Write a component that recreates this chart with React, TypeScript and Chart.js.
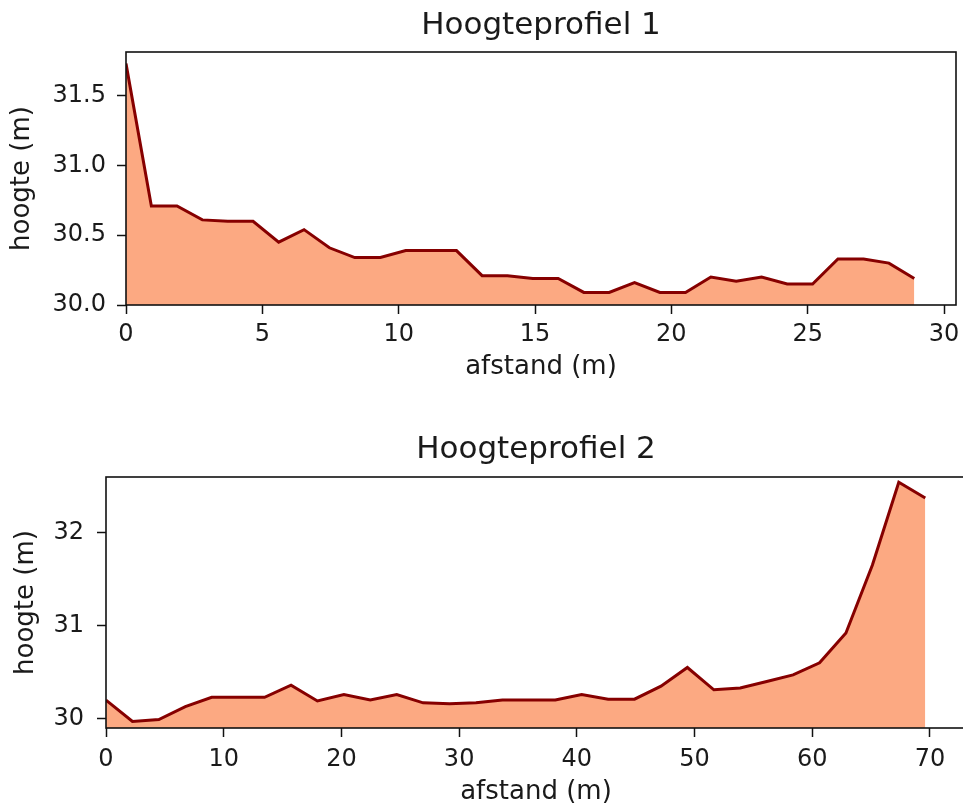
import React, { useEffect, useRef } from "react";
import { Chart, registerables } from "chart.js";

Chart.register(...registerables);

// ---- Data: Hoogteprofiel 1 ----
const profile1Distance = [0, 0.93, 1.87, 2.8, 3.73, 4.66, 5.6, 6.53, 7.46, 8.39, 9.33, 10.26, 11.19, 12.12, 13.06, 13.99, 14.92, 15.85, 16.79, 17.72, 18.65, 19.58, 20.52, 21.45, 22.38, 23.31, 24.25, 25.18, 26.11, 27.05, 27.98, 28.91];
const profile1Height = [31.73, 30.71, 30.71, 30.61, 30.6, 30.6, 30.45, 30.54, 30.41, 30.34, 30.34, 30.39, 30.39, 30.39, 30.21, 30.21, 30.19, 30.19, 30.09, 30.09, 30.16, 30.09, 30.09, 30.2, 30.17, 30.2, 30.15, 30.15, 30.33, 30.33, 30.3, 30.19];
const profile1XTicks = [0, 5, 10, 15, 20, 25, 30];
const profile1YTicks = [30.0, 30.5, 31.0, 31.5];

// ---- Data: Hoogteprofiel 2 ----
const profile2Distance = [0, 2.25, 4.49, 6.74, 8.98, 11.23, 13.47, 15.72, 17.96, 20.21, 22.45, 24.7, 26.94, 29.19, 31.43, 33.68, 35.92, 38.17, 40.41, 42.66, 44.9, 47.15, 49.39, 51.64, 53.88, 56.13, 58.37, 60.62, 62.86, 65.11, 67.35, 69.6];
const profile2Height = [30.2, 29.97, 29.99, 30.13, 30.23, 30.23, 30.23, 30.36, 30.19, 30.26, 30.2, 30.26, 30.17, 30.16, 30.17, 30.2, 30.2, 30.2, 30.26, 30.21, 30.21, 30.35, 30.55, 30.31, 30.33, 30.4, 30.47, 30.6, 30.92, 31.65, 32.54, 32.37];
const profile2XTicks = [0, 10, 20, 30, 40, 50, 60, 70];
const profile2YTicks = [30, 31, 32];

const FONT = "'DejaVu Sans', 'Liberation Sans', sans-serif";
const TEXT = "#1a1a1a";

const framePlugin = {
  id: "frame",
  afterDatasetsDraw(chart: any) {
    const { ctx, chartArea } = chart;
    ctx.save();
    ctx.strokeStyle = "#111";
    ctx.lineWidth = 1.6;
    ctx.strokeRect(chartArea.left, chartArea.top, chartArea.right - chartArea.left, chartArea.bottom - chartArea.top);
    ctx.restore();
  },
};

type Cfg = {
  title: string;
  xs: number[];
  ys: number[];
  xTicks: number[];
  yTicks: number[];
  xMin: number;
  xMax: number;
  yMin: number;
  yMax: number;
  yDecimals: number;
  width: number;
  height: number;
  padRight: number;
  titlePad: { top: number; bottom: number };
  yAxisWidth: number;
  xAxisHeight: number;
  yTickPad: number;
  xTickPad: number;
  yTitlePad: number;
  xTitlePad: number;
};

function makeConfig(c: Cfg): any {
  return {
    type: "line",
    data: {
      datasets: [
        {
          data: c.xs.map((x, i) => ({ x, y: c.ys[i] })),
          borderColor: "#860000",
          backgroundColor: "#FCA982",
          borderWidth: 3,
          pointRadius: 0,
          tension: 0,
          fill: "start",
        },
      ],
    },
    plugins: [framePlugin],
    options: {
      animation: false,
      responsive: false,
      devicePixelRatio: 1,
      layout: { padding: { left: 0, right: c.padRight, top: 0, bottom: 0 } },
      plugins: {
        legend: { display: false },
        tooltip: { enabled: false },
        title: {
          display: true,
          fullSize: false,
          text: c.title,
          color: TEXT,
          font: { family: FONT, size: 31, weight: "normal", lineHeight: 1.2 },
          padding: c.titlePad,
        },
      },
      scales: {
        x: {
          type: "linear",
          min: c.xMin,
          max: c.xMax,
          afterBuildTicks: (s: any) => {
            s.ticks = c.xTicks.map((v) => ({ value: v }));
          },
          afterFit: (s: any) => {
            s.height = c.xAxisHeight;
            s.paddingLeft = 0;
            s.paddingRight = 0;
          },
          ticks: {
            color: TEXT,
            font: { family: FONT, size: 24 },
            padding: c.xTickPad,
            maxRotation: 0,
            autoSkip: false,
            includeBounds: false,
            callback: (v: any) => String(v),
          },
          grid: { display: true, drawOnChartArea: false, drawTicks: true, tickLength: 9, color: "#111", tickWidth: 1.5 },
          border: { display: false },
          title: {
            display: true,
            text: "afstand (m)",
            color: TEXT,
            font: { family: FONT, size: 26, lineHeight: 1.2 },
            padding: { top: 0, bottom: c.xTitlePad },
          },
        },
        y: {
          type: "linear",
          min: c.yMin,
          max: c.yMax,
          afterBuildTicks: (s: any) => {
            s.ticks = c.yTicks.map((v) => ({ value: v }));
          },
          afterFit: (s: any) => {
            s.width = c.yAxisWidth;
            s.paddingTop = 0;
            s.paddingBottom = 0;
          },
          ticks: {
            color: TEXT,
            font: { family: FONT, size: 24 },
            padding: c.yTickPad,
            autoSkip: false,
            includeBounds: false,
            callback: (v: any) => Number(v).toFixed(c.yDecimals),
          },
          grid: { display: true, drawOnChartArea: false, drawTicks: true, tickLength: 9, color: "#111", tickWidth: 1.5 },
          border: { display: false },
          title: {
            display: true,
            text: "hoogte (m)",
            color: TEXT,
            font: { family: FONT, size: 26, lineHeight: 1.2 },
            padding: { top: c.yTitlePad, bottom: 0 },
          },
        },
      },
    },
  };
}

function ChartCanvas({ cfg, top }: { cfg: Cfg; top: number }) {
  const ref = useRef<HTMLCanvasElement | null>(null);
  useEffect(() => {
    if (!ref.current) return;
    const chart = new Chart(ref.current, makeConfig(cfg));
    return () => chart.destroy();
  }, []);
  return (
    <canvas
      ref={ref}
      width={cfg.width}
      height={cfg.height}
      style={{ position: "absolute", left: 0, top, width: cfg.width, height: cfg.height }}
    />
  );
}

const cfg1: Cfg = {
  title: "Hoogteprofiel 1",
  xs: profile1Distance,
  ys: profile1Height,
  xTicks: profile1XTicks,
  yTicks: profile1YTicks,
  xMin: 0,
  xMax: 30.44,
  yMin: 30.0,
  yMax: 31.813,
  yDecimals: 1,
  width: 963,
  height: 406,
  padRight: 7,
  titlePad: { top: 7.4, bottom: 7.4 },
  yAxisWidth: 126,
  xAxisHeight: 101,
  yTickPad: 11,
  xTickPad: 6,
  yTitlePad: 7.1,
  xTitlePad: 22.7,
};

const cfg2: Cfg = {
  title: "Hoogteprofiel 2",
  xs: profile2Distance,
  ys: profile2Height,
  xTicks: profile2XTicks,
  yTicks: profile2YTicks,
  xMin: 0,
  xMax: 73.06,
  yMin: 29.9,
  yMax: 32.596,
  yDecimals: 0,
  width: 980,
  height: 406,
  padRight: 14,
  titlePad: { top: 25.4, bottom: 8.4 },
  yAxisWidth: 106,
  xAxisHeight: 84,
  yTickPad: 13,
  xTickPad: 8,
  yTitlePad: 10.4,
  xTitlePad: 4.4,
};

export default function App() {
  return (
    <div
      style={{
        position: "fixed",
        left: 0,
        top: 0,
        width: 963,
        height: 812,
        overflow: "hidden",
        background: "#fff",
      }}
    >
      <ChartCanvas cfg={cfg1} top={0} />
      <ChartCanvas cfg={cfg2} top={406} />
    </div>
  );
}
